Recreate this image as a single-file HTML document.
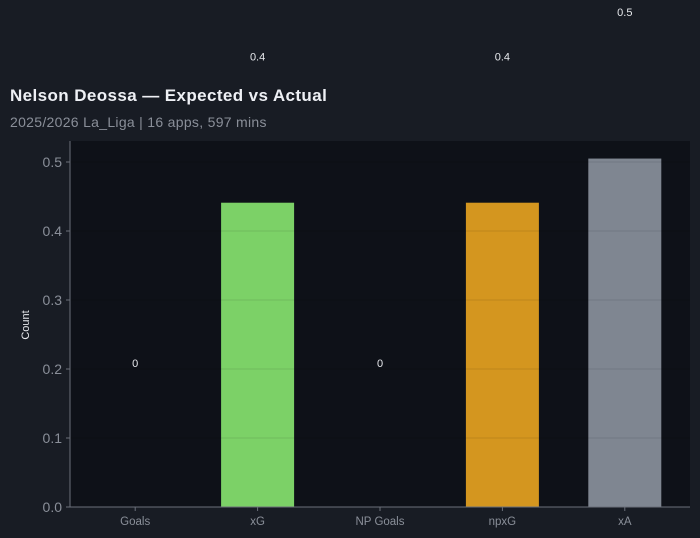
<!DOCTYPE html>
<html><head><meta charset="utf-8">
<style>
html,body{margin:0;padding:0;background:#181c24;width:700px;height:538px;overflow:hidden;font-family:"Liberation Sans",sans-serif;}
</style></head>
<body>
<svg width="700" height="538" xmlns="http://www.w3.org/2000/svg">
<rect x="0" y="0" width="700" height="538" fill="#181c24"/>
<text x="10" y="101" fill="#eef0f5" font-size="17" font-weight="bold" letter-spacing="0.4">Nelson Deossa — Expected vs Actual</text>
<text x="10" y="127" fill="#8a8f99" font-size="14" letter-spacing="0.3">2025/2026 La_Liga | 16 apps, 597 mins</text>
<rect x="70" y="141" width="620" height="366" fill="#0e1118"/>
<g id="bars"></g>
<g id="grid"></g>
<g id="axes"></g>
<g id="labels"></g>
<text transform="translate(29,325) rotate(-90)" text-anchor="middle" fill="#e6e8ec" font-size="11">Count</text>
</svg>
<script>
const categories = ["Goals","xG","NP Goals","npxG","xA"];
const values = [0, 0.441, 0, 0.441, 0.505];
const valueLabels = ["0","0.4","0","0.4","0.5"];
const colors = ["#7cd167","#7cd167","#d4961f","#d4961f","#7f8691"];
const yTicks = [0,0.1,0.2,0.3,0.4,0.5];
const yTickLabels = ["0.0","0.1","0.2","0.3","0.4","0.5"];

const NS="http://www.w3.org/2000/svg";
const x0=70, x1=690, yBase=507, yTop=141;
const bx0=74, bx1=686;
const yScale = v => yBase - v*690;
const band = (bx1-bx0)/categories.length;
const xCenter = i => bx0 + band*(i+0.5);
const labelY = v => 367 - v*695;
function mk(tag, attrs, parent){const e=document.createElementNS(NS,tag);for(const k in attrs)e.setAttribute(k,attrs[k]);document.getElementById(parent).appendChild(e);return e;}

categories.forEach((c,i)=>{
  const h = yBase - yScale(values[i]);
  if(h>0){
    const r = mk('rect',{x:xCenter(i)-36.5,y:yScale(values[i]),width:73,height:h,fill:colors[i]},'bars');
    
    
  }
  const t = mk('text',{x:xCenter(i),y:labelY(values[i]),'text-anchor':'middle',fill:'#e6e8ec','font-size':11},'labels');
  t.textContent = valueLabels[i];
  
  
  const tk = mk('line',{x1:xCenter(i),x2:xCenter(i),y1:yBase,y2:yBase+4,stroke:'#6b707a'},'axes');
  
  
  const xl = mk('text',{x:xCenter(i),y:525,'text-anchor':'middle',fill:'#8a8f99','font-size':11.5},'axes');
  xl.textContent=c;
  
  
});
yTicks.forEach((v,i)=>{
  const y=yScale(v);
  if(v>0){
    const g = mk('line',{x1:x0,x2:x1,y1:y,y2:y,stroke:'rgba(0,0,0,0.1)'},'grid');
    
    
  }
  const tk = mk('line',{x1:x0-4,x2:x0,y1:y,y2:y,stroke:'#6b707a'},'axes');
  
  
  const tl = mk('text',{x:x0-8,y:y+5,'text-anchor':'end',fill:'#8a8f99','font-size':14},'axes');
  tl.textContent=yTickLabels[i];
  
  
});
const ya = mk('line',{x1:x0,x2:x0,y1:yTop,y2:yBase,stroke:'#6b707a'},'axes');


const xa = mk('line',{x1:x0,x2:x1,y1:yBase,y2:yBase,stroke:'#6b707a'},'axes');


</script>
</body></html>
